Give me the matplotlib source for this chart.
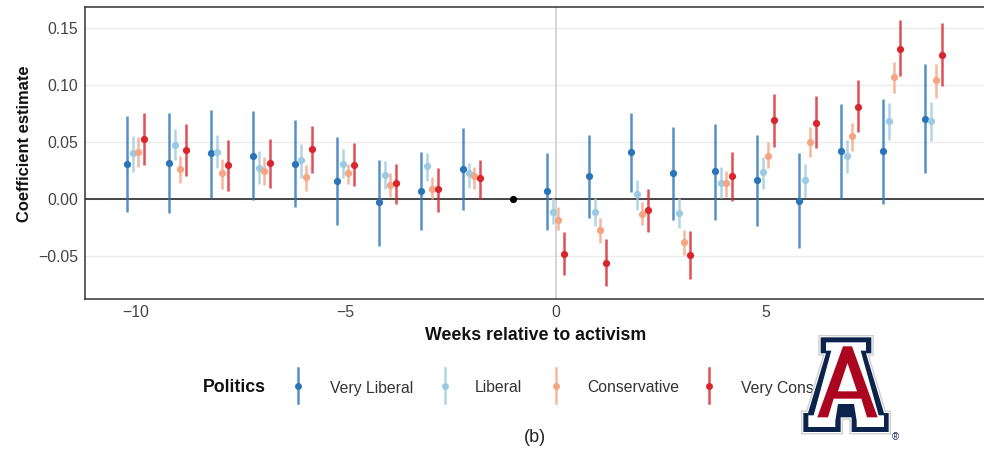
import matplotlib
matplotlib.use("Agg")
import matplotlib.pyplot as plt
import numpy as np
from matplotlib.patches import Polygon

plt.rcParams['font.family'] = ['Liberation Sans', 'DejaVu Sans']

# ---------------- data ----------------
weeks = [-10, -9, -8, -7, -6, -5, -4, -3, -2, 0, 1, 2, 3, 4, 5, 6, 7, 8, 9]
ref_week = -1
ref_value = 0.0

groups = ["Very Liberal", "Liberal", "Conservative", "Very Conservative"]
colors = ["#2B74B8", "#9DCAE3", "#F4A582", "#D7262E"]

vl_est = [0.031, 0.032, 0.040, 0.038, 0.031, 0.016, -0.003, 0.007, 0.026, 0.007, 0.020, 0.041, 0.023, 0.025, 0.017, -0.002, 0.042, 0.042, 0.070]
vl_lo = [-0.011, -0.012, 0.001, -0.001, -0.007, -0.023, -0.041, -0.027, -0.010, -0.027, -0.017, 0.006, -0.018, -0.018, -0.024, -0.043, 0.000, -0.004, 0.023]
vl_hi = [0.073, 0.075, 0.078, 0.077, 0.069, 0.054, 0.034, 0.041, 0.062, 0.040, 0.056, 0.075, 0.063, 0.066, 0.056, 0.040, 0.083, 0.088, 0.118]

l_est = [0.040, 0.047, 0.041, 0.027, 0.034, 0.031, 0.021, 0.029, 0.023, -0.011, -0.011, 0.004, -0.012, 0.014, 0.024, 0.017, 0.038, 0.068, 0.068]
l_lo = [0.024, 0.034, 0.027, 0.013, 0.018, 0.018, 0.009, 0.016, 0.010, -0.022, -0.024, -0.010, -0.025, 0.001, 0.009, 0.002, 0.023, 0.052, 0.051]
l_hi = [0.055, 0.061, 0.056, 0.042, 0.048, 0.044, 0.033, 0.040, 0.032, 0.001, 0.001, 0.017, 0.001, 0.028, 0.037, 0.031, 0.052, 0.084, 0.085]

c_est = [0.041, 0.026, 0.023, 0.025, 0.019, 0.023, 0.012, 0.009, 0.020, -0.018, -0.027, -0.013, -0.038, 0.014, 0.038, 0.050, 0.055, 0.107, 0.104]
c_lo = [0.028, 0.014, 0.009, 0.012, 0.007, 0.013, 0.002, 0.000, 0.009, -0.027, -0.039, -0.023, -0.049, 0.002, 0.027, 0.037, 0.042, 0.093, 0.089]
c_hi = [0.054, 0.038, 0.035, 0.037, 0.030, 0.031, 0.023, 0.019, 0.028, -0.007, -0.017, -0.003, -0.027, 0.025, 0.050, 0.063, 0.067, 0.120, 0.118]

vc_est = [0.053, 0.043, 0.030, 0.032, 0.044, 0.030, 0.014, 0.009, 0.018, -0.048, -0.056, -0.010, -0.049, 0.020, 0.069, 0.067, 0.081, 0.132, 0.126]
vc_lo = [0.030, 0.020, 0.007, 0.010, 0.023, 0.011, -0.004, -0.011, 0.000, -0.067, -0.076, -0.029, -0.070, -0.002, 0.046, 0.045, 0.059, 0.108, 0.099]
vc_hi = [0.075, 0.066, 0.052, 0.053, 0.064, 0.049, 0.031, 0.027, 0.034, -0.029, -0.035, 0.009, -0.028, 0.041, 0.092, 0.090, 0.104, 0.157, 0.154]

x_ticks = [-10, -5, 0, 5]
x_ticklabels = ["\u221210", "\u22125", "0", "5"]
y_ticks = [-0.05, 0.00, 0.05, 0.10, 0.15]
y_ticklabels = ["\u22120.05", "0.00", "0.05", "0.10", "0.15"]

series = [(vl_est, vl_lo, vl_hi), (l_est, l_lo, l_hi), (c_est, c_lo, c_hi), (vc_est, vc_lo, vc_hi)]

# ---------------- figure ----------------
W, H = 984, 451
fig = plt.figure(figsize=(W / 100, H / 100), dpi=100)
fig.patch.set_facecolor("white")

def px_axes(l, t, r, b):
    return [l / W, 1 - b / H, (r - l) / W, (b - t) / H]

ax = fig.add_axes(px_axes(85, 7, 984, 299))
ax.set_xlim(-11.2, 10.2)
ax.set_ylim(-0.0877, 0.1684)

for yv in y_ticks:
    ax.axhline(yv, color="#ebebeb", lw=1.0, zorder=0)
ax.axvline(0, color="#d4d4d4", lw=1.4, zorder=0.5)
ax.axhline(0, color="#3a3a3a", lw=1.3, zorder=1)

dodge = 0.13
wk = np.array(weeks, dtype=float)
for i, ((est, lo, hi), col) in enumerate(zip(series, colors)):
    xs = wk + (i - 1.5) * dodge
    ax.vlines(xs, lo, hi, color=col, lw=1.8, alpha=0.8, zorder=2)
    ax.plot(xs, est, "o", color=col, ms=5.2, mec="none", zorder=3)
ax.plot([ref_week], [ref_value], "o", color="black", ms=5.2, mec="none", zorder=3)

ax.set_xticks(x_ticks)
ax.set_xticklabels(x_ticklabels)
ax.set_yticks(y_ticks)
ax.set_yticklabels(y_ticklabels)
ax.tick_params(length=0, labelsize=11.3, labelcolor="#444444", pad=5)
ax.tick_params(axis="x", pad=4)
for s in ["left", "top", "bottom"]:
    ax.spines[s].set_color("#333333")
    ax.spines[s].set_linewidth(1.1)
ax.spines["right"].set_visible(False)

# ---------------- overlay: titles, legend, caption, logo ----------------
ov = fig.add_axes([0, 0, 1, 1])
ov.set_xlim(0, W)
ov.set_ylim(H, 0)
ov.axis("off")
ov.patch.set_alpha(0)

ov.text(536, 339.5, "Weeks relative to activism", fontsize=12.8, fontweight="bold",
        ha="center", va="baseline", color="#111111")
ov.text(25, 143.5, "Coefficient estimate", fontsize=11.9, fontweight="bold",
        ha="center", va="center", rotation=90, color="#111111")

ov.text(203, 392.5, "Politics", fontsize=12.8, fontweight="bold", va="baseline", ha="left", color="#111111")
key_x = [298, 445, 556, 709]
lab_x = [330, 475, 587, 741]
for kx, lx, g, col in zip(key_x, lab_x, groups, colors):
    ov.plot([kx, kx], [368, 403], color=col, lw=1.8, alpha=0.8)
    ov.plot([kx], [386], "o", color=col, ms=5, mec="none")
    ov.text(lx, 392.5, g, fontsize=11.3, va="baseline", ha="left", color="#333333")

ov.text(535, 438, "(b)", fontsize=13, ha="center", va="center", color="#222222")

# University of Arizona block "A" logo (approximate shapes)
def conv(pts):
    return [(798 + x / 3, 328 + y / 3) for x, y in pts]

navy_pts = [(68, 28), (220, 28), (220, 76), (204, 76), (258, 255), (272, 255), (272, 312),
            (161, 312), (161, 268), (128, 268), (128, 312), (16, 312), (16, 255), (30, 255),
            (84, 76), (68, 76)]
white_pts = [(84, 43), (204, 43), (204, 68), (188, 68), (242, 262), (258, 262), (258, 297),
             (176, 297), (176, 278), (168, 228), (120, 228), (112, 278), (112, 297), (31, 297),
             (31, 262), (47, 262), (100, 68), (84, 68)]
red_pts = [(135, 55), (162, 55), (239, 268), (207, 268), (190, 212), (107, 212), (90, 268), (58, 268)]
counter_pts = [(148.5, 105), (177, 190), (120, 190)]

ov.add_patch(Polygon(conv(navy_pts), closed=True, facecolor="white", edgecolor="#d0d0d0",
                     lw=3.5, joinstyle="miter", zorder=5))
ov.add_patch(Polygon(conv(navy_pts), closed=True, facecolor="white", edgecolor="white",
                     lw=1.5, joinstyle="miter", zorder=5.5))
ov.add_patch(Polygon(conv(navy_pts), closed=True, facecolor="#0C234B", edgecolor="none", zorder=6))
ov.add_patch(Polygon(conv(white_pts), closed=True, facecolor="white", edgecolor="none", zorder=7))
ov.add_patch(Polygon(conv(red_pts), closed=True, facecolor="#AB0520", edgecolor="none", zorder=8))
ov.add_patch(Polygon(conv(counter_pts), closed=True, facecolor="white", edgecolor="none", zorder=9))
ov.text(895, 437, "\u00ae", fontsize=7, ha="center", va="center", color="#0C234B", zorder=10)

fig.savefig("out.png", dpi=100, facecolor="white")
